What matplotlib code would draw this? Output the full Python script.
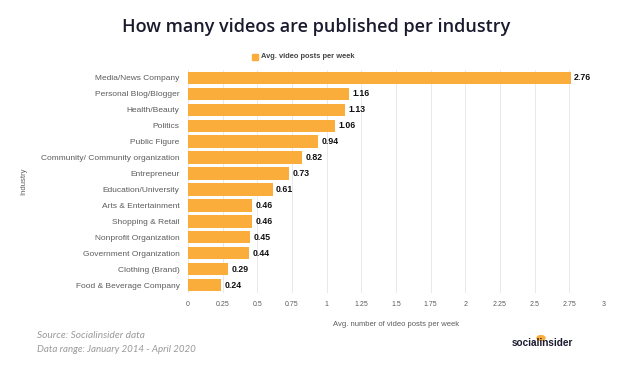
import matplotlib
matplotlib.use('Agg')
import numpy as np
from matplotlib import pyplot as plt

# data
industries = ['Media/News Company', 'Personal Blog/Blogger', 'Health/Beauty', 'Politics',
              'Public Figure', 'Community/ Community organization', 'Entrepreneur',
              'Education/University', 'Arts & Entertainment', 'Shopping & Retail',
              'Nonprofit Organization', 'Government Organization', 'Clothing (Brand)',
              'Food & Beverage Company']
posts = [2.76, 1.16, 1.13, 1.06, 0.94, 0.82, 0.73, 0.61, 0.46, 0.46, 0.45, 0.44, 0.29, 0.24]
xticks = [0, 0.25, 0.5, 0.75, 1, 1.25, 1.5, 1.75, 2, 2.25, 2.5, 2.75, 3]

bar_col = '#FAAD3A'
grey = '#5c5c5c'

plt.rcParams['font.family'] = ['Liberation Sans', 'DejaVu Sans']

fig = plt.figure(figsize=(6.24, 3.68), dpi=100)
ax = fig.add_axes([188/624, 1-293/368, (604-188)/624, (293-70)/368])

y = np.arange(len(industries))
ax.barh(y, posts, height=0.78, color=bar_col, zorder=3)
for yi, v in zip(y, posts):
    ax.text(v + 0.025, yi, '%.2f' % v, va='center', ha='left', fontsize=6.3,
            fontweight='bold', color='#111111', zorder=4)

ax.set_ylim(len(industries) - 0.5, -0.5)
ax.set_xlim(0, 3)
ax.set_yticks(y)
ax.set_yticklabels(industries, fontsize=6.0, color=grey)
ax.set_xticks(xticks)
ax.set_xticklabels([('%g' % t) for t in xticks], fontsize=5, color=grey)
ax.tick_params(axis='y', length=0, pad=6)
ax.tick_params(axis='x', length=0, pad=6)
ax.grid(axis='x', color='#e8e8ee', linewidth=0.7, zorder=0)
for s in ax.spines.values():
    s.set_visible(False)
ax.set_xlabel('Avg. number of video posts per week', fontsize=5.5, color=grey, labelpad=9)

fig.text(24/624, 1-181/368, 'Industry', rotation=90, fontsize=5.5, color=grey,
         ha='center', va='center')

fig.text(316/624, 1-27/368, 'How many videos are published per industry', ha='center',
         va='center', fontsize=13, fontweight='semibold', color='#1a1a2e',
         family=['Open Sans', 'DejaVu Sans'])

# legend
fig.patches.append(plt.Rectangle((252/624, 1-60/368), 6/624, 6/368, color=bar_col,
                                 transform=fig.transFigure, figure=fig))
fig.text(261/624, 1-57/368, 'Avg. video posts per week', fontsize=5.4, fontweight='bold',
         color='#444444', va='center', ha='left')

fig.text(37/624, 1-336/368, 'Source: Socialinsider data', fontsize=7.3, style='italic',
         color='#999999', va='center', family=['Lato', 'DejaVu Sans'])
fig.text(37/624, 1-350/368, 'Data range: January 2014 - April 2020', fontsize=7.0,
         style='italic', color='#999999', va='center', family=['Lato', 'DejaVu Sans'])

# logo
fig.patches.append(plt.Circle((541/624, 1-338/368), 4/624, color=bar_col,
                              transform=fig.transFigure, figure=fig))
fig.text(542/624, 1-343/368, 'socialinsider', fontsize=7.2, fontweight='bold',
         color='#1a1a2e', ha='center', va='center')

fig.savefig('out.png', dpi=100)
